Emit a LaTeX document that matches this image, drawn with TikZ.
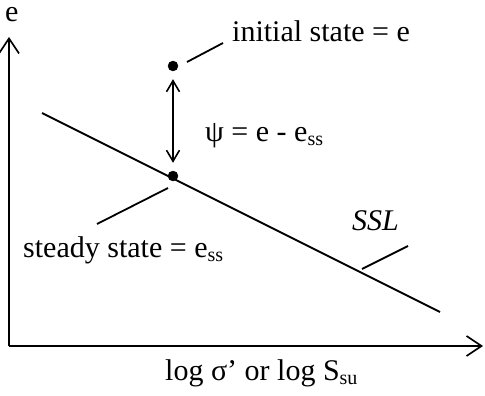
\documentclass[tikz,border=0pt]{standalone}
\usepackage{fontspec}
\setmainfont{Liberation Serif}
\usetikzlibrary{arrows.meta}
\newcommand{\subss}[1]{\raisebox{-0.16em}{\fontsize{20}{20}\selectfont #1}}
\tikzset{
  lbl/.style={inner sep=0pt, anchor=base west, font=\fontsize{30}{30}\selectfont},
  ln/.style={line width=1.8pt},
  dotn/.style={circle, fill=black, draw=black, inner sep=0pt, minimum size=10pt},
  axis/.style={ln, -{Straight Barb[length=15pt,width=20pt,line width=1.6pt]}},
  dbl/.style={ln, {Straight Barb[length=11pt,width=13pt,line width=1.6pt]}-{Straight Barb[length=11pt,width=13pt,line width=1.6pt]}}
}
\begin{document}
\begin{tikzpicture}[x=1pt,y=-1pt]
\useasboundingbox (0,0) rectangle (485,396);
% axes
\coordinate (o) at (9,346);
\coordinate (ytop) at (9,37);
\coordinate (xend) at (483,346);
\draw[axis] (o) -- (ytop);
\draw[axis] (o) -- (xend);
\node[lbl] (elab) at (5,22) {e};
\node[lbl] (xlab) at (165,380) {log σ’ or log S\subss{su}};
% SSL line
\coordinate (s1) at (42,113);
\coordinate (s2) at (440,312);
\draw[ln] (s1) -- (s2);
% points
\node[dotn] (init) at (173,66) {};
\node[dotn] (ssd) at (173,176) {};
\draw[dbl, shorten <=8pt, shorten >=8pt] (init) -- (ssd);
% labels
\node[lbl] (initlab) at (232,42) {initial state = e};
\coordinate (il1) at (187,62);
\coordinate (il2) at (223,43);
\draw[ln] (il1) -- (il2);
\node[lbl] (psilab) at (205,141) {ψ = e - e\subss{ss}};
\node[lbl] (sslab) at (23,257) {steady state = e\subss{ss}};
\coordinate (sl1) at (97,224);
\coordinate (sl2) at (168,188);
\draw[ln] (sl1) -- (sl2);
\node[lbl, font=\fontsize{30}{30}\selectfont\itshape] (ssl) at (352,230) {SSL};
\coordinate (ll1) at (362,269);
\coordinate (ll2) at (408,246);
\draw[ln] (ll1) -- (ll2);
\end{tikzpicture}
\end{document}
